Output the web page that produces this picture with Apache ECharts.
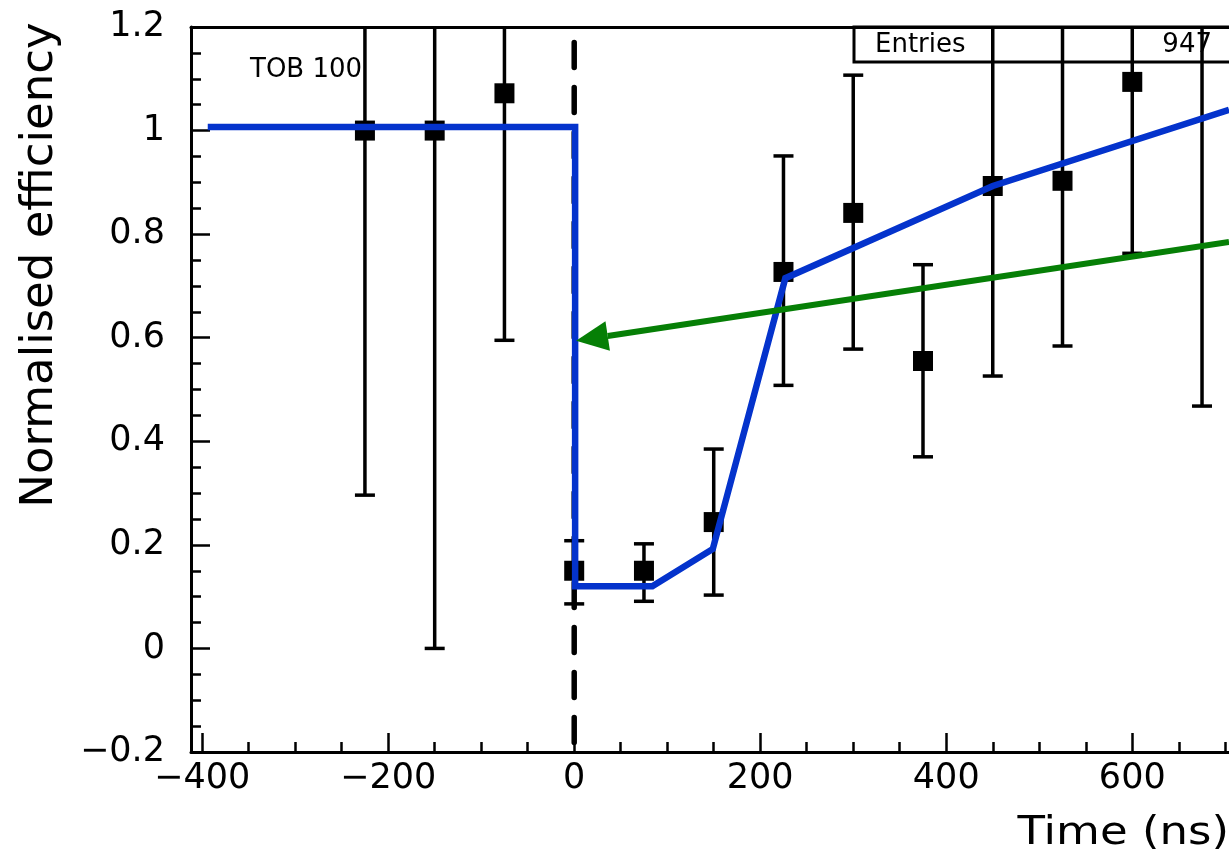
<!DOCTYPE html>
<html>
<head>
<meta charset="utf-8">
<title>Normalised efficiency vs time</title>
<script src="https://cdn.jsdelivr.net/npm/echarts@6/dist/echarts.min.js"></script>
<style>
  html, body { margin: 0; padding: 0; background: #fff; }
  #chart { width: 1229px; height: 863px; }
</style>
</head>
<body>
<div id="chart"></div>
<script>
// Measured points: time (ns), efficiency and the ends of each error bar
const timeNs     = [-225, -150, -75, 0, 75, 150, 225, 300, 375, 450, 525, 600, 675];
const efficiency = [1.0, 1.0, 1.072, 0.15, 0.15, 0.244, 0.727, 0.841, 0.555, 0.893, 0.903, 1.094, 1.25];
const errLower   = [0.296, 0.0, 0.595, 0.086, 0.091, 0.103, 0.508, 0.578, 0.370, 0.526, 0.584, 0.763, 0.468];
const errUpper   = [1.70, 2.0, 1.55, 0.208, 0.202, 0.385, 0.951, 1.107, 0.741, 1.26, 1.22, 1.43, 2.03];

// Fitted response curve (blue)
const fitTime = [-394, 1, 1, 84, 149, 227, 450, 704];
const fitEff  = [1.007, 1.007, 0.12, 0.12, 0.192, 0.715, 0.893, 1.04];

// Green arrow: tail at the right, tip on the step at t = 0
const arrowTime = [704, 2];
const arrowEff  = [0.785, 0.594];

// Dashed marker at t = 0
const markerTime = 0;
const markerEff  = [1.17, -0.2];

// Axis ticks and labels
const xMajorTicks = [-400, -200, 0, 200, 400, 600];
const xMinorTicks = [-400, -350, -300, -250, -200, -150, -100, -50, 0, 50, 100, 150, 200,
                     250, 300, 350, 400, 450, 500, 550, 600, 650, 700];
const xTitle = 'Time (ns)';
const yTitle = 'Normalised efficiency';
const padLabel = 'TOB 100';
const statsLabel = 'Entries';
const statsValue = '947';

const FONT = 'DejaVu Sans';
const MINUS = '\u2212';

function fmt(v) {
  if (Math.abs(v) < 1e-9) return '0';
  const s = String(+Math.abs(v).toFixed(1));
  return (v < 0 ? MINUS : '') + s;
}

const chart = echarts.init(document.getElementById('chart'), null, { renderer: 'canvas' });

const baseX = { type: 'value', min: -412, max: 704, gridIndex: 0, splitLine: { show: false } };

const option = {
  animation: false,
  backgroundColor: '#ffffff',
  grid: { left: 191, top: 27, right: 0, bottom: 111, containLabel: false, outerBoundsMode: 'none' },
  xAxis: [
    Object.assign({}, baseX, {
      position: 'bottom',
      axisLine: { show: true, onZero: false, lineStyle: { color: '#000', width: 3 } },
      axisTick: { show: true, inside: true, length: 19, customValues: xMajorTicks,
                  lineStyle: { color: '#000', width: 2.5 } },
      axisLabel: { show: true, customValues: xMajorTicks, formatter: fmt, margin: 9,
                   color: '#000', fontFamily: FONT, fontSize: 35 }
    }),
    Object.assign({}, baseX, {
      position: 'bottom',
      axisLine: { show: false, onZero: false },
      axisTick: { show: true, inside: true, length: 10, customValues: xMinorTicks,
                  lineStyle: { color: '#000', width: 2.5 } },
      axisLabel: { show: false }
    }),
    Object.assign({}, baseX, {
      position: 'top',
      axisLine: { show: true, onZero: false, lineStyle: { color: '#000', width: 3 } },
      axisTick: { show: false },
      axisLabel: { show: false }
    })
  ],
  yAxis: {
    type: 'value', min: -0.2, max: 1.2, interval: 0.2,
    splitLine: { show: false },
    axisLine: { show: true, onZero: false, lineStyle: { color: '#000', width: 3 } },
    axisTick: { show: true, inside: true, length: 19, lineStyle: { color: '#000', width: 2.5 } },
    minorTick: { show: true, splitNumber: 4, length: 10, lineStyle: { color: '#000', width: 2.5 } },
    axisLabel: { formatter: fmt, margin: 26, color: '#000', fontFamily: FONT, fontSize: 35 }
  },
  graphic: [
    { type: 'rect', z: 1, shape: { x: 854, y: 27, width: 500, height: 35 },
      style: { fill: 'none', stroke: '#000', lineWidth: 3 } },
    { type: 'text', z: 1, x: 875, y: 45,
      style: { text: statsLabel, fontFamily: FONT, fontSize: 26, fill: '#000',
               textAlign: 'left', textVerticalAlign: 'middle' } },
    { type: 'text', z: 1, x: 1212, y: 45,
      style: { text: statsValue, fontFamily: FONT, fontSize: 26, fill: '#000',
               textAlign: 'right', textVerticalAlign: 'middle' } },
    { type: 'text', z: 1, x: 250, y: 70,
      style: { text: padLabel, fontFamily: FONT, fontSize: 26, fill: '#000',
               textAlign: 'left', textVerticalAlign: 'middle' } },
    { type: 'text', z: 1, x: 40, y: 265, rotation: Math.PI / 2,
      style: { text: yTitle, fontFamily: FONT, fontSize: 45, fill: '#000',
               textAlign: 'center', textVerticalAlign: 'middle' } },
    { type: 'text', z: 1, x: 1229, y: 834, scaleY: 0.85,
      style: { text: xTitle, fontFamily: FONT, fontSize: 45, fill: '#000',
               textAlign: 'right', textVerticalAlign: 'middle' } }
  ],
  series: [
    {
      // vertical error bars with end caps
      type: 'custom',
      xAxisIndex: 0,
      clip: true,
      z: 3,
      data: timeNs.map((t, i) => [t, errLower[i], errUpper[i]]),
      encode: { x: 0, y: [1, 2] },
      renderItem: function (params, api) {
        const x = api.value(0);
        const pLo = api.coord([x, api.value(1)]);
        const pHi = api.coord([x, api.value(2)]);
        const half = 10;
        const st = { stroke: '#000', lineWidth: 3.5 };
        return {
          type: 'group',
          children: [
            { type: 'line', shape: { x1: pLo[0], y1: pLo[1], x2: pHi[0], y2: pHi[1] }, style: st },
            { type: 'line', shape: { x1: pLo[0] - half, y1: pLo[1], x2: pLo[0] + half, y2: pLo[1] }, style: st },
            { type: 'line', shape: { x1: pHi[0] - half, y1: pHi[1], x2: pHi[0] + half, y2: pHi[1] }, style: st }
          ]
        };
      }
    },
    {
      type: 'scatter',
      xAxisIndex: 0,
      z: 4,
      symbol: 'rect',
      symbolSize: 20,
      itemStyle: { color: '#000', opacity: 1 },
      data: timeNs.map((t, i) => [t, efficiency[i]])
    },
    {
      type: 'line',
      xAxisIndex: 0,
      z: 5,
      symbol: 'none',
      silent: true,
      lineStyle: { color: '#000', width: 5.5, type: [25, 20], cap: 'round' },
      data: markerEff.map(v => [markerTime, v])
    },
    {
      type: 'line',
      xAxisIndex: 0,
      z: 6,
      symbol: 'none',
      lineStyle: { color: '#0433cc', width: 6.5, join: 'miter' },
      data: fitTime.map((t, i) => [t, fitEff[i]])
    },
    {
      // arrow from the right-hand side to the step
      type: 'custom',
      xAxisIndex: 0,
      clip: false,
      z: 7,
      data: [[arrowTime[0], arrowEff[0], arrowTime[1], arrowEff[1]]],
      encode: { x: [0, 2], y: [1, 3] },
      renderItem: function (params, api) {
        const tail = api.coord([api.value(0), api.value(1)]);
        const tip = api.coord([api.value(2), api.value(3)]);
        const dx = tail[0] - tip[0], dy = tail[1] - tip[1];
        const len = Math.sqrt(dx * dx + dy * dy);
        const ux = dx / len, uy = dy / len;
        const headLen = 32, headHalf = 15;
        const bx = tip[0] + ux * headLen, by = tip[1] + uy * headLen;
        const green = '#067f06';
        return {
          type: 'group',
          children: [
            { type: 'line', shape: { x1: tail[0], y1: tail[1], x2: bx, y2: by },
              style: { stroke: green, lineWidth: 6 } },
            { type: 'polygon',
              shape: { points: [[tip[0], tip[1]],
                                [bx - uy * headHalf, by + ux * headHalf],
                                [bx + uy * headHalf, by - ux * headHalf]] },
              style: { fill: green } }
          ]
        };
      }
    }
  ]
};

chart.setOption(option);
</script>
</body>
</html>
